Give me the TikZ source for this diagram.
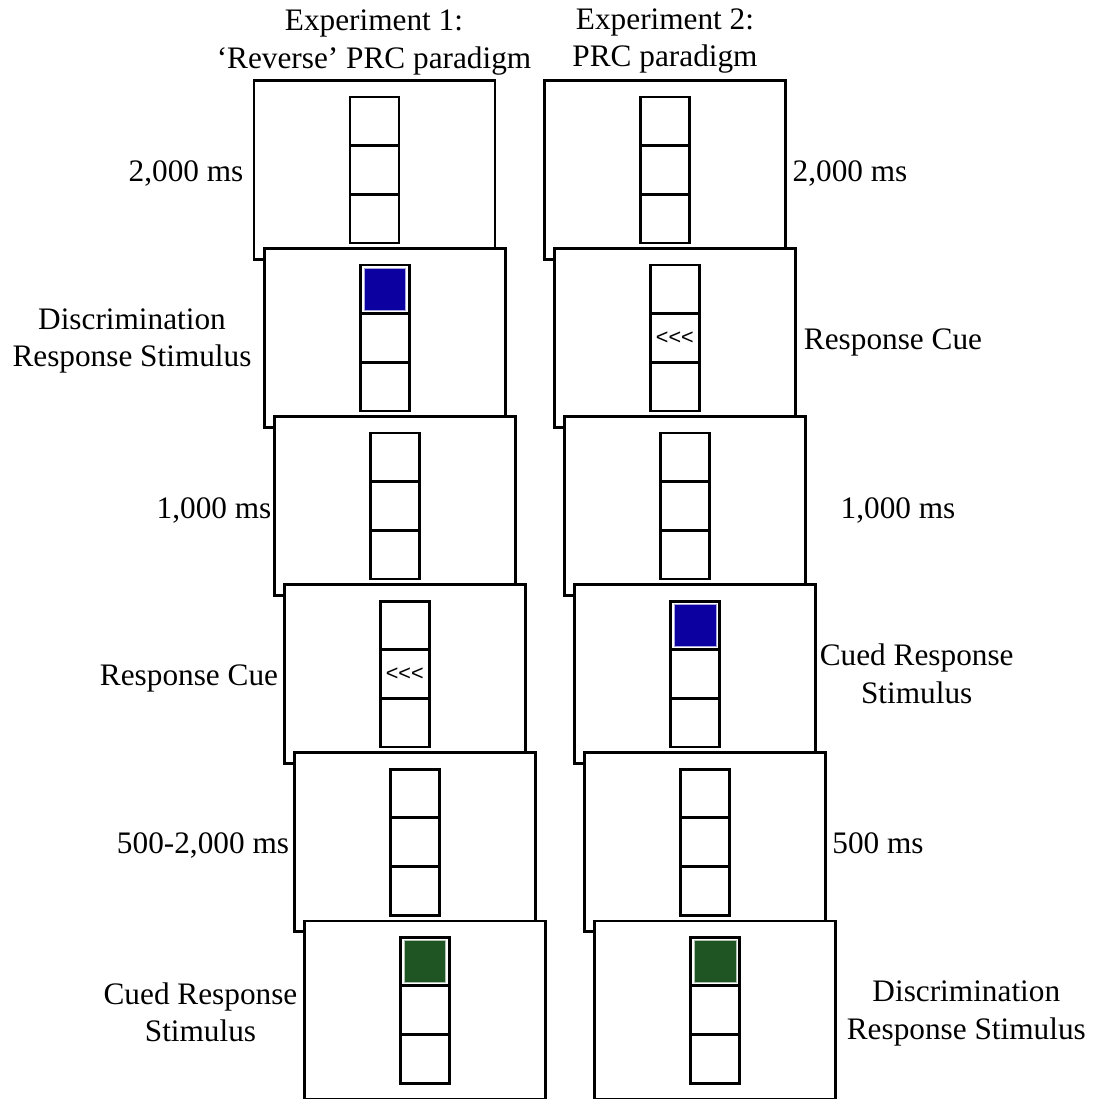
\documentclass[tikz,border=0pt]{standalone}
\usepackage{fontspec}
\setmainfont{Liberation Serif}
\newfontfamily\cuefont{Liberation Sans}
\usepackage{tikz}
\usetikzlibrary{positioning}
\definecolor{discblue}{RGB}{12,0,160}
\definecolor{cuedgreen}{RGB}{30,85,34}
\tikzstyle{screen} = [draw, fill=white, line width=1.6pt, minimum width=4.82cm, minimum height=3.57cm, inner sep=0, outer sep=0]
\tikzstyle{cell} = [draw, line width=1.6pt, minimum width=0.98cm, minimum height=0.973cm, inner sep=0, outer sep=0]
\tikzstyle{bluesq} = [fill=discblue, draw=discblue!35, line width=0.4pt, minimum size=0.83cm, inner sep=0]
\tikzstyle{greensq} = [fill=cuedgreen, draw=cuedgreen!35, line width=0.4pt, minimum size=0.83cm, inner sep=0]
\tikzstyle{cue} = [font=\cuefont\fontsize{12.3}{14}\selectfont, inner sep=0]
\tikzstyle{lbl} = [font=\fontsize{17.8}{21.3}\selectfont, align=center, anchor=base, inner sep=0]

\begin{document}
\begin{tikzpicture}
	\useasboundingbox (0,0) rectangle (21.88,21.98);

	\node[screen](l1) at (7.49, 18.581){};
	\node[cell](l1b) at (l1){};
	\node[cell, above=0pt of l1b](l1a){};
	\node[cell, below=0pt of l1b](l1c){};

	\node[screen](l2) at (7.692, 15.22){};
	\node[cell](l2b) at (l2){};
	\node[cell, above=0pt of l2b](l2a){};
	\node[cell, below=0pt of l2b](l2c){};
	\node[bluesq](l2sq) at (l2a){};

	\node[screen](l3) at (7.894, 11.859){};
	\node[cell](l3b) at (l3){};
	\node[cell, above=0pt of l3b](l3a){};
	\node[cell, below=0pt of l3b](l3c){};

	\node[screen](l4) at (8.096, 8.498){};
	\node[cell](l4b) at (l4){};
	\node[cell, above=0pt of l4b](l4a){};
	\node[cell, below=0pt of l4b](l4c){};
	\node[cue](l4cue) at (l4b){<\kern0pt<\kern0pt<};

	\node[screen](l5) at (8.298, 5.137){};
	\node[cell](l5b) at (l5){};
	\node[cell, above=0pt of l5b](l5a){};
	\node[cell, below=0pt of l5b](l5c){};

	\node[screen](l6) at (8.5, 1.776){};
	\node[cell](l6b) at (l6){};
	\node[cell, above=0pt of l6b](l6a){};
	\node[cell, below=0pt of l6b](l6c){};
	\node[greensq](l6sq) at (l6a){};

	\node[screen](r1) at (13.296, 18.581){};
	\node[cell](r1b) at (r1){};
	\node[cell, above=0pt of r1b](r1a){};
	\node[cell, below=0pt of r1b](r1c){};

	\node[screen](r2) at (13.498, 15.22){};
	\node[cell](r2b) at (r2){};
	\node[cell, above=0pt of r2b](r2a){};
	\node[cell, below=0pt of r2b](r2c){};
	\node[cue](r2cue) at (r2b){<\kern0pt<\kern0pt<};

	\node[screen](r3) at (13.7, 11.859){};
	\node[cell](r3b) at (r3){};
	\node[cell, above=0pt of r3b](r3a){};
	\node[cell, below=0pt of r3b](r3c){};

	\node[screen](r4) at (13.902, 8.498){};
	\node[cell](r4b) at (r4){};
	\node[cell, above=0pt of r4b](r4a){};
	\node[cell, below=0pt of r4b](r4c){};
	\node[bluesq](r4sq) at (r4a){};

	\node[screen](r5) at (14.104, 5.137){};
	\node[cell](r5b) at (r5){};
	\node[cell, above=0pt of r5b](r5a){};
	\node[cell, below=0pt of r5b](r5c){};

	\node[screen](r6) at (14.306, 1.776){};
	\node[cell](r6b) at (r6){};
	\node[cell, above=0pt of r6b](r6a){};
	\node[cell, below=0pt of r6b](r6c){};
	\node[greensq](r6sq) at (r6a){};

	\node[lbl](ttl1) at (7.48, 20.614){Experiment 1:\\‘Reverse’ PRC paradigm};
	\node[lbl](ttl2) at (13.3, 20.646){Experiment 2:\\PRC paradigm};

	\node[lbl](lt1) at (3.72, 18.346){2,000 ms};
	\node[lbl](lt2) at (2.64, 14.646){Discrimination\\Response Stimulus};
	\node[lbl](lt3) at (4.28, 11.614){1,000 ms};
	\node[lbl](lt4) at (3.78, 8.26){Response Cue};
	\node[lbl](lt5) at (4.06, 4.914){500-2,000 ms};
	\node[lbl](lt6) at (4.01, 1.146){Cued Response\\Stimulus};

	\node[lbl](rt1) at (17.0, 18.346){2,000 ms};
	\node[lbl](rt2) at (17.86, 14.994){Response Cue};
	\node[lbl](rt3) at (17.96, 11.614){1,000 ms};
	\node[lbl](rt4) at (18.334, 7.914){Cued Response\\Stimulus};
	\node[lbl](rt5) at (17.56, 4.914){500 ms};
	\node[lbl](rt6) at (19.326, 1.194){Discrimination\\Response Stimulus};
\end{tikzpicture}
\end{document}
